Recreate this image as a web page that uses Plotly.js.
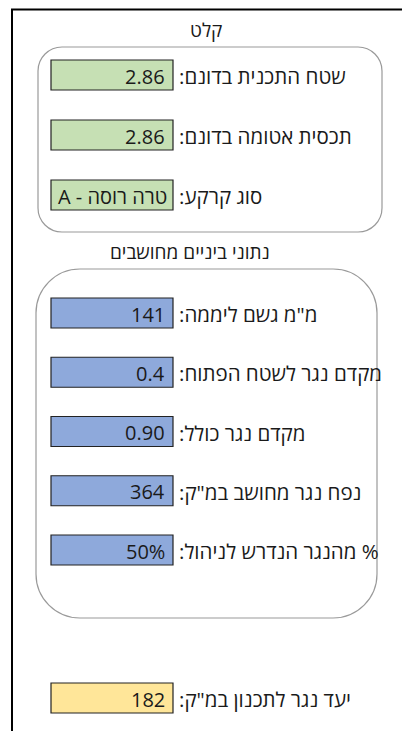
<!DOCTYPE html>
<html>
<head>
<meta charset="utf-8">
<script src="https://cdn.plot.ly/plotly-3.0.1.min.js"></script>
<style>html,body{margin:0;padding:0;background:#fff;}#chart{width:402px;height:731px;}</style>
</head>
<body>
<div id="chart"></div>
<script>
// ---- data ----
const inputTitle = "קלט";
const inputLabels = ["שטח התכנית בדונם:", "תכסית אטומה בדונם:", "סוג קרקע:"];
const inputValues = ["2.86", "2.86", "טרה רוסה - A"];
const calcTitle = "נתוני ביניים מחושבים";
const calcLabels = ["מ\"מ גשם ליממה:", "מקדם נגר לשטח הפתוח:", "מקדם נגר כולל:", "נפח נגר מחושב במ\"ק:", "% מהנגר הנדרש לניהול:"];
const calcValues = ["141", "0.4", "0.90", "364", "50%"];
const targetLabels = ["יעד נגר לתכנון במ\"ק:"];
const targetValues = ["182"];

// ---- styles / layout ----
const FONT = "Open Sans, Noto Sans, sans-serif";
const FS = 20;
const FS_LABEL = 20.5;
const TXT = "#1a1a1a";
const rtl = s => "\u202B" + s + "\u202C";
const BOX_X0 = 51, BOX_X1 = 173, BOX_H = 30, LABEL_X = 177;

const shapes = [];
const annotations = [];

function roundRect(x0, y0, x1, y1, r) {
  const k = 0.5523 * r;
  return `M${x0 + r},${y0} L${x1 - r},${y0} C${x1 - r + k},${y0} ${x1},${y0 + r - k} ${x1},${y0 + r}` +
    ` L${x1},${y1 - r} C${x1},${y1 - r + k} ${x1 - r + k},${y1} ${x1 - r},${y1}` +
    ` L${x0 + r},${y1} C${x0 + r - k},${y1} ${x0},${y1 - r + k} ${x0},${y1 - r}` +
    ` L${x0},${y0 + r} C${x0},${y0 + r - k} ${x0 + r - k},${y0} ${x0 + r},${y0} Z`;
}

function addRows(labels, values, yStart, step, fill) {
  labels.forEach((lab, i) => {
    const yc = yStart + i * step;
    shapes.push({type: "rect", xref: "x", yref: "y", x0: BOX_X0, x1: BOX_X1, y0: yc - BOX_H / 2, y1: yc + BOX_H / 2,
      fillcolor: fill, line: {color: "#222", width: 1.2}, layer: "below"});
    const v = values[i];
    const isNum = /^[0-9.%]+$/.test(v);
    annotations.push({xref: "x", yref: "y", x: isNum ? BOX_X1 - 6 : (BOX_X0 + BOX_X1) / 2, y: yc + 1,
      xanchor: isNum ? "right" : "center", yanchor: "middle", text: rtl(v), showarrow: false,
      font: {family: FONT, size: FS, color: TXT}});
    annotations.push({xref: "x", yref: "y", x: LABEL_X, y: yc + 1, xanchor: "left", yanchor: "middle",
      text: rtl(lab), showarrow: false, font: {family: FONT, size: FS_LABEL, color: TXT}});
  });
}

// outer frame lines
shapes.push({type: "path", xref: "x", yref: "y", path: "M12,731 L12,9.5 L402,9.5", line: {color: "#000", width: 2}});
// rounded group boxes
shapes.push({type: "path", xref: "x", yref: "y", path: roundRect(38, 47, 382, 232, 24), line: {color: "#9a9a9a", width: 1.2}, layer: "below"});
shapes.push({type: "path", xref: "x", yref: "y", path: roundRect(36, 269, 377, 618, 44), line: {color: "#9a9a9a", width: 1.2}, layer: "below"});

annotations.push({xref: "x", yref: "y", x: 206, y: 30, xanchor: "center", yanchor: "middle", text: rtl(inputTitle),
  showarrow: false, font: {family: FONT, size: 19, color: TXT}});
annotations.push({xref: "x", yref: "y", x: 190, y: 252, xanchor: "center", yanchor: "middle", text: rtl(calcTitle),
  showarrow: false, font: {family: FONT, size: 19, color: TXT}});

addRows(inputLabels, inputValues, 75, 60, "#C6E0B4");
addRows(calcLabels, calcValues, 313, 59.25, "#8EA9DB");
addRows(targetLabels, targetValues, 698, 0, "#FFE699");

const layout = {
  width: 402, height: 731,
  margin: {l: 0, r: 0, t: 0, b: 0},
  paper_bgcolor: "#fff", plot_bgcolor: "#fff",
  xaxis: {range: [0, 402], visible: false, fixedrange: true},
  yaxis: {range: [731, 0], visible: false, fixedrange: true},
  showlegend: false,
  shapes: shapes,
  annotations: annotations
};

Plotly.newPlot("chart", [{x: [], y: [], type: "scatter", hoverinfo: "skip"}], layout, {displayModeBar: false, staticPlot: true});
</script>
</body>
</html>
